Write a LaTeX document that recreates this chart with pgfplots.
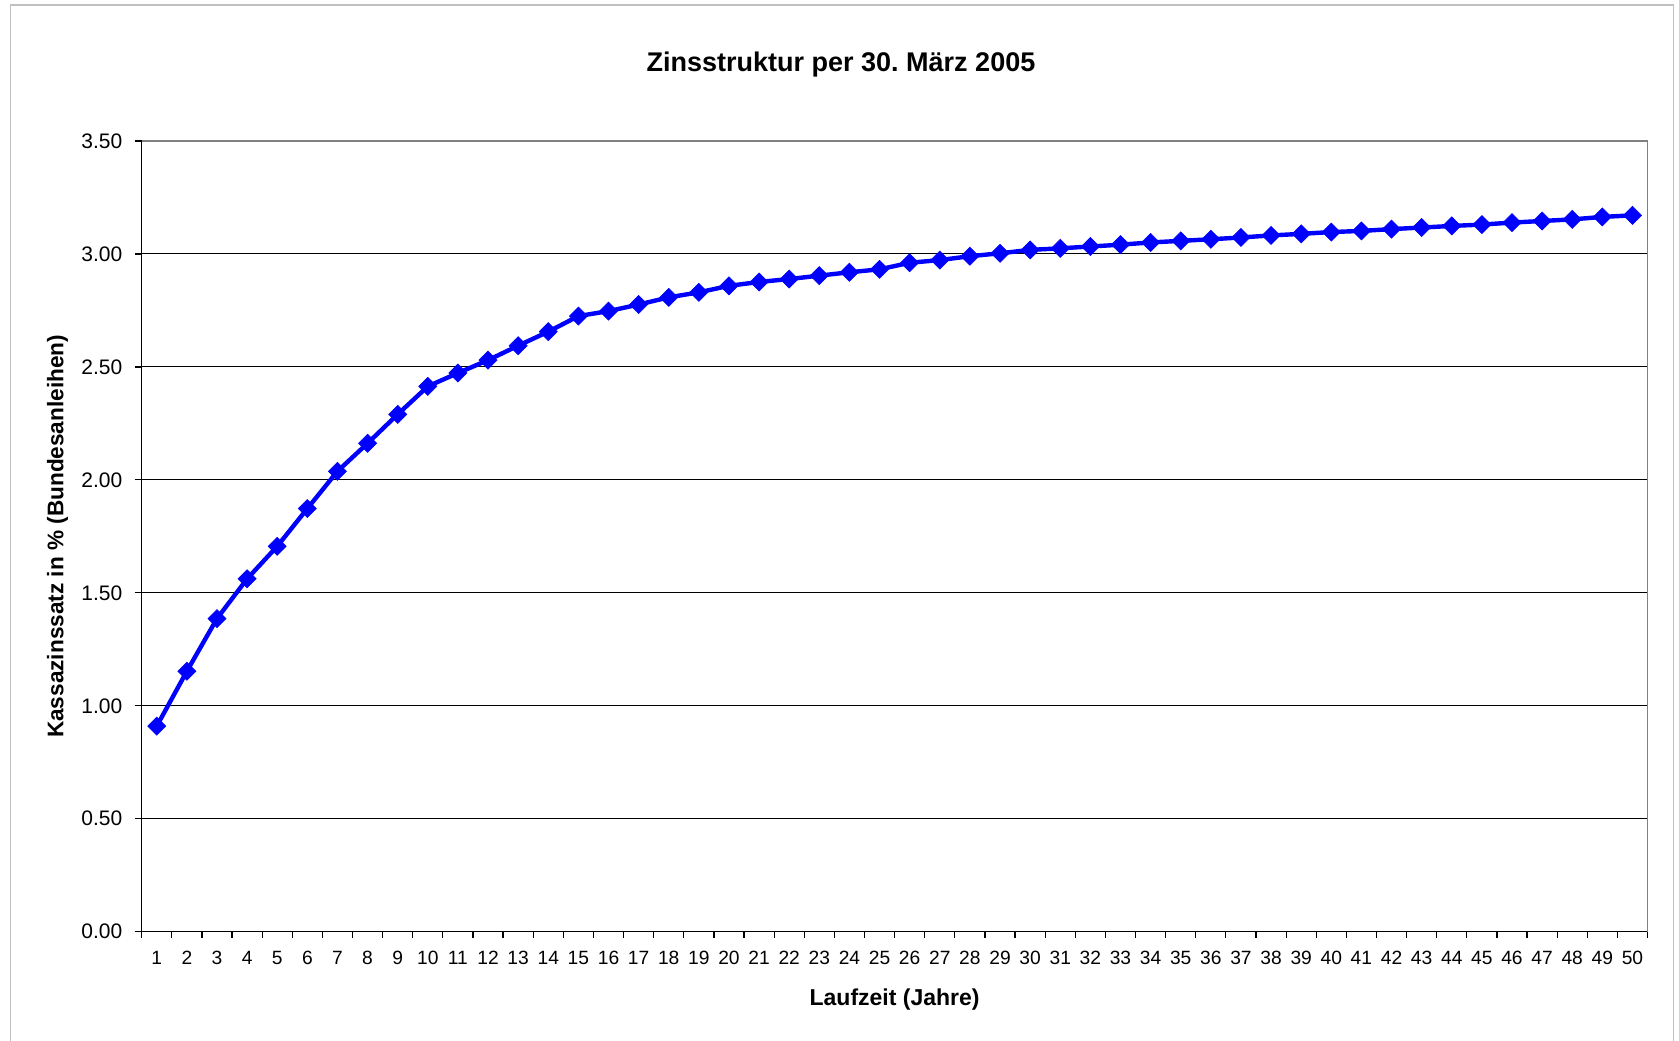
\documentclass[border=0pt]{standalone}
\usepackage{fontspec}
\setmainfont{Liberation Sans}
\usepackage{pgfplots}
\pgfplotsset{compat=1.18}
\definecolor{exblue}{RGB}{0,0,255}
\definecolor{bordergray}{RGB}{192,192,192}
\definecolor{plotgray}{RGB}{128,128,128}
\frenchspacing
\begin{document}
\begin{tikzpicture}[x=1pt,y=1pt]
\path[use as bounding box] (0,0) rectangle (839.5,520);
\draw[bordergray, line width=0.8pt] (5.25,-2) -- (5.25,517.5) -- (836.75,517.5) -- (836.75,-2);
\begin{axis}[
  at={(70.85pt,54.15pt)}, anchor=south west,
  scale only axis, width=752.9pt, height=395.35pt,
  xmin=0.5, xmax=50.5, ymin=0, ymax=3.5,
  axis lines=left,
  axis line style={-, black, line width=0.6pt},
  xtick={1,...,50},
  major x tick style={draw=none},
  minor xtick={0.5,1.5,...,50.5},
  minor x tick style={black, line width=0.6pt},
  ytick={0,0.5,...,3.5},
  y tick style={black, line width=0.6pt},
  tick align=outside,
  major tick length=3.5pt, minor tick length=3pt,
  ymajorgrids,
  grid style={black, line width=0.5pt},
  /pgf/number format/assume math mode=true,
  yticklabel style={/pgf/number format/.cd, fixed, fixed zerofill, precision=2, /tikz/.cd,
     font=\fontsize{10.5}{12}\selectfont, inner sep=0pt, anchor=east, xshift=-6pt},
  xticklabel style={font=\fontsize{9.6}{11}\selectfont, inner sep=0pt, anchor=north, yshift=-6pt},
  title={Zinsstruktur per 30.\ März 2005},
  title style={at={(axis description cs:0.4644,1.0983)}, anchor=base, yshift=-9.9pt, font=\fontsize{13.5}{15}\selectfont\bfseries},
  xlabel={Laufzeit (Jahre)},
  xlabel style={at={(axis description cs:0.5,-0.0927)}, anchor=base, font=\fontsize{11.5}{13}\selectfont\bfseries},
  ylabel={Kassazinssatz in \% (Bundesanleihen)},
  ylabel style={at={(axis description cs:-0.0521,0.5)}, anchor=base, rotate=0, font=\fontsize{11.3}{13}\selectfont\bfseries},
  clip=false,
]
\draw[plotgray, line width=0.9pt] (rel axis cs:0,1) -- (rel axis cs:1,1) -- (rel axis cs:1,0);
\addplot[exblue, line width=2.2pt, mark=square*, mark size=3.2pt,
  mark options={rotate=45, fill=exblue, draw=exblue, line width=0.3pt}]
coordinates {
(1,0.910) (2,1.153) (3,1.386) (4,1.562) (5,1.706) (6,1.873) (7,2.038) (8,2.162) (9,2.290) (10,2.414)
(11,2.473) (12,2.530) (13,2.594) (14,2.656) (15,2.725) (16,2.747) (17,2.776) (18,2.808) (19,2.830) (20,2.859)
(21,2.876) (22,2.889) (23,2.904) (24,2.919) (25,2.932) (26,2.961) (27,2.973) (28,2.990) (29,3.003) (30,3.018)
(31,3.025) (32,3.033) (33,3.041) (34,3.051) (35,3.058) (36,3.065) (37,3.073) (38,3.082) (39,3.089) (40,3.097)
(41,3.102) (42,3.110) (43,3.117) (44,3.124) (45,3.130) (46,3.139) (47,3.146) (48,3.153) (49,3.164) (50,3.171)
};
\end{axis}
\end{tikzpicture}
\end{document}
